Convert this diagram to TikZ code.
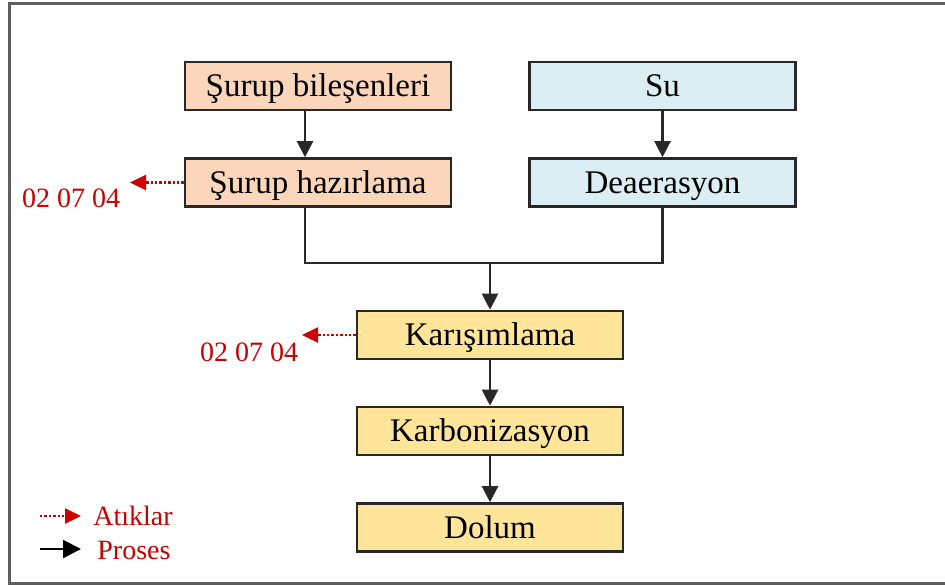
\documentclass[tikz,border=0pt]{standalone}
\usepackage{fontspec}
\setmainfont{Liberation Serif}
\usetikzlibrary{arrows.meta,calc}
\definecolor{peach}{RGB}{251,214,186}
\definecolor{lblue}{RGB}{219,238,244}
\definecolor{lyellow}{RGB}{255,229,153}
\definecolor{wred}{RGB}{204,0,0}
\definecolor{frameg}{RGB}{95,95,95}
\definecolor{edgeg}{RGB}{40,40,40}
\tikzset{
  box/.style={draw=edgeg, line width=1.3pt, minimum width=133pt, minimum height=24pt,
    inner sep=0pt, text height=14pt, text depth=3.5pt,
    font=\fontsize{16.5}{19}\selectfont, text=black},
  sbox/.style={box, fill=peach},
  wbox/.style={box, fill=lblue},
  ybox/.style={box, fill=lyellow},
  proc/.style={draw=edgeg, line width=1.1pt, -{Triangle[length=8pt,width=8pt]}},
  pline/.style={draw=edgeg, line width=1.1pt},
  waste/.style={draw=wred, line width=1.1pt, dash pattern=on 1.2pt off 1pt,
    -{Triangle[length=8pt,width=7.5pt]}},
  wlabel/.style={text=wred, font=\fontsize{14}{16}\selectfont, inner sep=0pt},
}
\begin{document}
\begin{tikzpicture}[x=0.5pt,y=-0.5pt]
\useasboundingbox (0,0) rectangle (945,585);
% frame
\draw[frameg, line width=1.5pt] (960,3) -- (9,3) -- (9,583) -- (960,583);
% boxes
\node[sbox] (sb) at (318,86) {Şurup bileşenleri};
\node[sbox] (sh) at (318,182.5) {Şurup hazırlama};
\node[wbox] (su) at (662.5,86) {Su};
\node[wbox] (de) at (662.5,182.5) {Deaerasyon};
\node[ybox] (ka) at (490,335) {Karışımlama};
\node[ybox] (kb) at (490,431) {Karbonizasyon};
\node[ybox] (do) at (490,527.5) {Dolum};
% process connectors
\draw[proc] ($(sb.south)+(-13,0)$) -- ($(sh.north)+(-13,0)$);
\draw[proc] (su.south) -- (de.north);
\coordinate (j) at (490,263);
\draw[pline] ($(sh.south)+(-13,0)$) |- (j);
\draw[pline] (de.south) |- (j);
\draw[proc] (j) -- (ka.north);
\draw[proc] (ka.south) -- (kb.north);
\draw[proc] (kb.south) -- (do.north);
% waste arrows
\coordinate (w1) at (130,182.5);
\draw[waste] (sh.west) -- (w1);
\node[wlabel] (l1) at (71,198) {02 07 04};
\coordinate (w2) at (302,335);
\draw[waste] (ka.west) -- (w2);
\node[wlabel] (l2) at (249,352) {02 07 04};
% legend
\coordinate (la1) at (40,516);
\coordinate (la2) at (81,516);
\draw[waste] (la1) -- (la2);
\node[wlabel, anchor=west] (lt1) at (93,516) {Atıklar};
\coordinate (lb1) at (40,549);
\coordinate (lb2) at (81,549);
\draw[proc, draw=black, -{Triangle[length=9pt,width=9pt]}] (lb1) -- (lb2);
\node[wlabel, anchor=west] (lt2) at (97,550) {Proses};
\end{tikzpicture}
\end{document}
